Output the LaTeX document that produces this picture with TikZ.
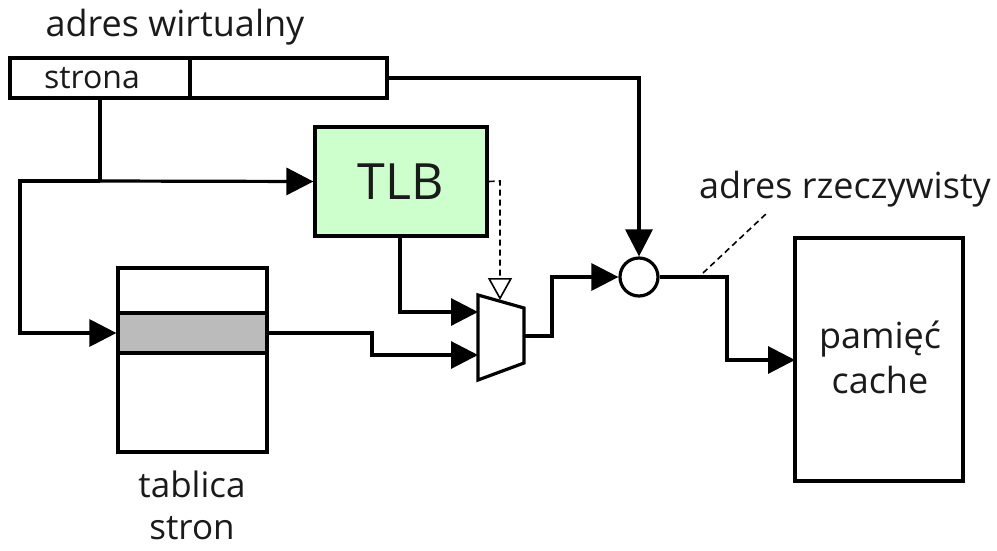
\documentclass[tikz,border=0pt]{standalone}
\usepackage{fontspec}
\setmainfont{Open Sans}
\usetikzlibrary{arrows.meta,calc}
\definecolor{tlbgreen}{HTML}{CCFFCC}
\definecolor{rowgray}{HTML}{BBBBBB}
\definecolor{txt}{HTML}{1A1A1A}
\begin{document}
\begin{tikzpicture}[x=1pt,y=-1pt,
  box/.style={draw, line width=3.2pt, inner sep=0pt},
  lbl/.style={font=\fontsize{36}{45}\selectfont, text=txt, inner sep=0pt, align=center},
  conn/.style={line width=3.2pt},
  arr/.style={conn, -{Triangle[length=27pt,width=27pt]}},
  darr/.style={line width=1.6pt, dash pattern=on 6pt off 4pt, -{Triangle[open,length=22pt,width=24pt,line width=1.6pt]}}
]
\useasboundingbox (0,0) rectangle (997,550);

% virtual address
\node[lbl] (valbl) at (175,27) {adres wirtualny};
\node[box, minimum width=377pt, minimum height=40pt] (va) at (198.5,78) {};
\coordinate (vadiv1) at (190,58);
\coordinate (vadiv2) at (190,98);
\draw[conn] (vadiv1) -- (vadiv2);
\node[lbl, font=\fontsize{32}{38}\selectfont] (strona) at (92,78) {strona};

% TLB
\node[box, fill=tlbgreen, minimum width=172pt, minimum height=109pt, font=\fontsize{50}{60}\selectfont, text=txt] (tlb) at (401,181.5) {TLB};

% page table
\node[box, minimum width=149pt, minimum height=184pt] (tab) at (192.5,360) {};
\node[box, fill=rowgray, minimum width=149pt, minimum height=40pt] (row) at (192.5,333) {};
\node[lbl, font=\fontsize{35}{42}\selectfont] (tablbl) at (192,505) {tablica\\stron};

% mux
\coordinate (m1) at (478,295);
\coordinate (m2) at (524,308);
\coordinate (m3) at (524,363);
\coordinate (m4) at (478,380);
\draw[line width=3.2pt, line join=miter, fill=white] (m1) -- (m2) -- (m3) -- (m4) -- cycle;
\coordinate (muxin1) at (478,312);
\coordinate (muxin2) at (478,355);
\coordinate (muxout) at (524,336);
\coordinate (muxtop) at (500,300);

% combine circle
\node[draw, circle, line width=3.2pt, minimum size=38pt, inner sep=0pt] (comb) at (639,277) {};

% cache
\node[box, minimum width=168pt, minimum height=243pt] (cache) at (879,359.5) {};
\node[lbl] (cachelbl) at (880,357) {pamięć\\cache};

% real address label
\node[lbl] (ralbl) at (845,189) {adres rzeczywisty};
\coordinate (ra1) at (703,273);
\coordinate (ra2) at (767,213);
\draw[line width=1.6pt, dash pattern=on 6pt off 4pt] (ra1) -- (ra2);

% connectors
\coordinate (split) at (100,181);
\coordinate (left) at (20,181);
\coordinate (leftdown) at (20,333);
\coordinate (stronaout) at (100,98);
\draw[conn] (stronaout) -- (split);
\draw[arr] (split) -- (tlb.west);
\draw[arr] (split) -- (left) -- (leftdown) -- (row.west);

\draw[arr] (va.east) -| (comb.north);

\coordinate (tlbout) at (400,236);
\draw[arr] (tlbout) |- (muxin1);

\coordinate (rowbend) at (372,333);
\draw[arr] (row.east) -- (rowbend) |- (muxin2);

\coordinate (outbend) at (552,336);
\draw[arr] (muxout) -- (outbend) |- (comb.west);

\coordinate (combbend) at (727,277);
\coordinate (cachein) at (795,360);
\draw[arr] (comb.east) -- (combbend) |- (cachein);

\coordinate (tlbctl) at (500,181);
\draw[darr] (tlb.east) -- (tlbctl) -- (muxtop);
\end{tikzpicture}
\end{document}
